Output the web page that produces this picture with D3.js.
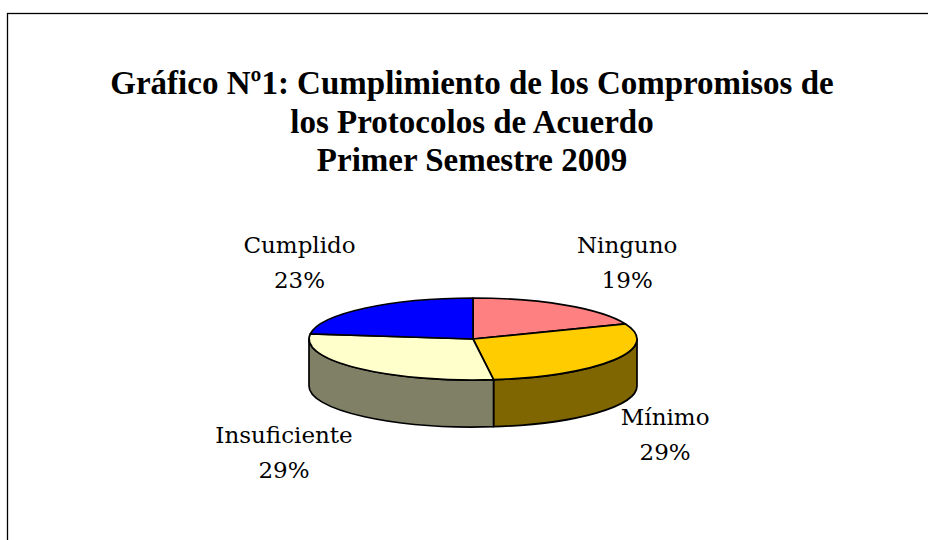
<!DOCTYPE html>
<html>
<head>
<meta charset="utf-8">
<script src="https://cdn.jsdelivr.net/npm/d3@7"></script>
<style>
  html, body { margin: 0; padding: 0; background: #fff; }
  svg { display: block; }
</style>
</head>
<body>
<script>
// ---- data ----
const titleLines = ["Gráfico Nº1: Cumplimiento de los Compromisos de", "los Protocolos de Acuerdo", "Primer Semestre 2009"];
const categories = ["Ninguno", "Mínimo", "Insuficiente", "Cumplido"];
const values = [19, 29, 29, 23];
const pctLabels = ["19%", "29%", "29%", "23%"];
const topColors = ["#FF8080", "#FFCC00", "#FFFFCC", "#0000FF"];
const sideColors = ["#804040", "#806600", "#808066", "#000080"];
// label offsets from the rim point at each slice's mid angle
const labelOffsets = [[62, -52], [51, 65], [-73, 75], [-65, -55]];

// ---- layout ----
const W = 928, H = 540;
const cx = 473, cy = 339, rx = 164, ry = 41, depth = 47;

const svg = d3.select("body").append("svg").attr("width", W).attr("height", H);

svg.append("rect").attr("x", 7.5).attr("y", 13.5).attr("width", W + 20).attr("height", H + 20)
  .attr("fill", "#fff").attr("stroke", "#000").attr("stroke-width", 1.3);

// title
const title = svg.append("text").attr("text-anchor", "middle")
  .attr("font-family", "'Liberation Serif', serif").attr("font-weight", "bold")
  .attr("font-size", 33).attr("fill", "#000");
titleLines.forEach((t, i) => {
  title.append("tspan").attr("x", 472).attr("y", 94 + i * 38.5).text(t);
});

// pie layout
const arcs = d3.pie().sort(null).value(d => d).startAngle(0).endAngle(2 * Math.PI)(values);
const px = a => cx + rx * Math.sin(a);
const py = a => cy - ry * Math.cos(a);

const g = svg.append("g").attr("stroke", "#000").attr("stroke-width", 1.7).attr("stroke-linejoin", "round");

// sides (visible front part: angles between PI/2 and 3PI/2)
arcs.forEach((d, i) => {
  const s = Math.max(d.startAngle, Math.PI / 2);
  const e = Math.min(d.endAngle, 3 * Math.PI / 2);
  if (e <= s) return;
  const large = (e - s) > Math.PI ? 1 : 0;
  const path = `M${px(s)},${py(s)} A${rx},${ry} 0 ${large} 1 ${px(e)},${py(e)} L${px(e)},${py(e) + depth} A${rx},${ry} 0 ${large} 0 ${px(s)},${py(s) + depth} Z`;
  g.append("path").attr("d", path).attr("fill", sideColors[i]);
});

// top faces
arcs.forEach((d, i) => {
  const a0 = d.startAngle, a1 = d.endAngle;
  const large = (a1 - a0) > Math.PI ? 1 : 0;
  const path = `M${cx},${cy} L${px(a0)},${py(a0)} A${rx},${ry} 0 ${large} 1 ${px(a1)},${py(a1)} Z`;
  g.append("path").attr("d", path).attr("fill", topColors[i]);
});

// labels
const lg = svg.append("g").attr("font-family", "'DejaVu Serif', serif").attr("font-size", 23)
  .attr("text-anchor", "middle").attr("fill", "#000");
arcs.forEach((d, i) => {
  const mid = (d.startAngle + d.endAngle) / 2;
  const x = px(mid) + labelOffsets[i][0];
  const y = py(mid) + labelOffsets[i][1];
  const t = lg.append("text");
  t.append("tspan").attr("x", x).attr("y", y).text(categories[i]);
  t.append("tspan").attr("x", x).attr("y", y + 35).text(pctLabels[i]);
});
</script>
</body>
</html>
